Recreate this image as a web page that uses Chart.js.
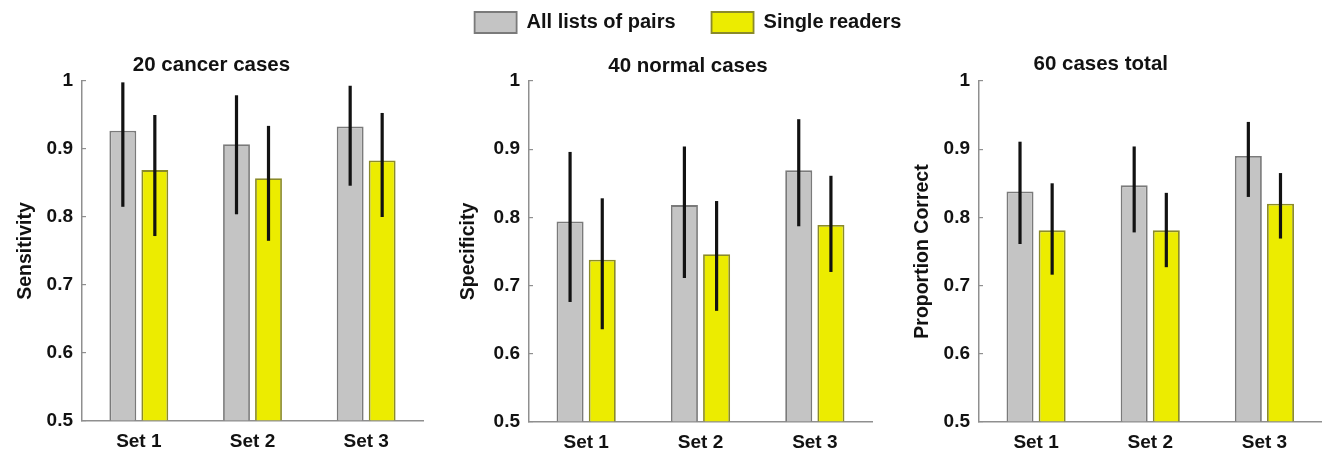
<!DOCTYPE html>
<html>
<head>
<meta charset="utf-8">
<script src="https://cdn.jsdelivr.net/npm/chart.js@4.4.1/dist/chart.umd.min.js"></script>
<style>
  html, body { margin: 0; padding: 0; background: #ffffff; overflow: hidden; }
  body { width: 1331px; height: 457px; position: relative; }
  .panel { position: absolute; }
</style>
</head>
<body>
<div class="panel" id="p1" style="left:0px;top:0px;width:440px;height:457px;"><canvas id="c1"></canvas></div>
<div class="panel" id="p2" style="left:400px;top:-24px;width:576px;height:481px;"><canvas id="c2"></canvas></div>
<div class="panel" id="p3" style="left:880px;top:0px;width:451px;height:457px;"><canvas id="c3"></canvas></div>
<script>
// ---- data ----
const categories = ['Set 1', 'Set 2', 'Set 3'];
const seriesNames = ['All lists of pairs', 'Single readers'];
const panelTitles = ['20 cancer cases', '40 normal cases', '60 cases total'];
const yAxisTitles = ['Sensitivity', 'Specificity', 'Proportion Correct'];
const yTickValues = [0.5, 0.6, 0.7, 0.8, 0.9, 1.0];
const yTickLabels = ['0.5', '0.6', '0.7', '0.8', '0.9', '1'];

const cancerPairs      = [0.927, 0.907, 0.933];
const cancerPairsLo    = [0.815, 0.804, 0.846];
const cancerPairsHi    = [0.998, 0.979, 0.993];
const cancerSingle     = [0.869, 0.857, 0.883];
const cancerSingleLo   = [0.772, 0.765, 0.800];
const cancerSingleHi   = [0.950, 0.934, 0.953];

const normalPairs      = [0.794, 0.818, 0.869];
const normalPairsLo    = [0.676, 0.711, 0.787];
const normalPairsHi    = [0.896, 0.904, 0.944];
const normalSingle     = [0.738, 0.746, 0.789];
const normalSingleLo   = [0.636, 0.663, 0.720];
const normalSingleHi   = [0.828, 0.824, 0.861];

const totalPairs       = [0.838, 0.847, 0.890];
const totalPairsLo     = [0.761, 0.778, 0.830];
const totalPairsHi     = [0.911, 0.904, 0.940];
const totalSingle      = [0.781, 0.781, 0.820];
const totalSingleLo    = [0.716, 0.727, 0.769];
const totalSingleHi    = [0.850, 0.836, 0.865];

// ---- styles ----
Chart.defaults.font.family = '"Liberation Sans", Arial, Helvetica, sans-serif';
Chart.defaults.color = '#121212';
const TXT = '#121212';
const AXIS = '#8f8f8f';
const GRAY_FILL = '#c4c4c4', GRAY_EDGE = '#7a7a7a';
const YEL_FILL = '#ecec00', YEL_EDGE = '#8a8a2a';

const errorBars = {
  id: 'errorBars',
  afterDatasetsDraw(chart) {
    const ctx = chart.ctx, ys = chart.scales.y;
    ctx.save();
    ctx.strokeStyle = '#121212';
    ctx.lineWidth = 3.2;
    ctx.lineCap = 'butt';
    chart.data.datasets.forEach((ds, i) => {
      const meta = chart.getDatasetMeta(i);
      if (!ds.errLo) return;
      meta.data.forEach((el, j) => {
        ctx.beginPath();
        ctx.moveTo(el.x, ys.getPixelForValue(ds.errLo[j]));
        ctx.lineTo(el.x, ys.getPixelForValue(ds.errHi[j]));
        ctx.stroke();
      });
    });
    ctx.restore();
  }
};

function makeDatasets(a, aLo, aHi, b, bLo, bHi) {
  return [
    { label: seriesNames[0], data: a, errLo: aLo, errHi: aHi, base: 0.5,
      backgroundColor: GRAY_FILL, borderColor: GRAY_EDGE, borderWidth: 1.8,
      barPercentage: 0.84, categoryPercentage: 0.563 },
    { label: seriesNames[1], data: b, errLo: bLo, errHi: bHi, base: 0.5,
      backgroundColor: YEL_FILL, borderColor: YEL_EDGE, borderWidth: 1.8,
      barPercentage: 0.84, categoryPercentage: 0.563 }
  ];
}

function makeChart(id, cfg) {
  const scales = {
    x: {
      type: 'category',
      offset: true,
      grid: { display: false, drawTicks: false },
      border: { display: true, color: AXIS, width: 1.5 },
      ticks: { font: { size: 19, weight: 'bold' }, padding: 9, color: TXT },
      afterFit: s => { s.height = cfg.xH; }
    },
    y: {
      type: 'linear',
      min: 0.5, max: 1,
      afterBuildTicks: s => { s.ticks = yTickValues.map(v => ({ value: v })); },
      ticks: {
        font: { size: 19, weight: 'bold' }, padding: 13, color: TXT,
        callback: v => { const k = yTickValues.findIndex(t => Math.abs(t - v) < 1e-6); return k >= 0 ? yTickLabels[k] : ''; }
      },
      grid: { display: true, drawOnChartArea: false, drawTicks: true, tickLength: -4, color: AXIS, lineWidth: 1.2 },
      border: { display: true, color: AXIS, width: 1.5 },
      title: { display: true, text: cfg.yTitle, font: { size: 19.5, weight: 'bold' }, color: TXT, padding: { top: cfg.yTitlePad, bottom: 0 } },
      afterFit: s => { s.width = cfg.yW; }
    }
  };
  if (cfg.rightW) {
    scales.yR = {
      type: 'linear', position: 'right', display: true,
      grid: { display: false, drawTicks: false }, border: { display: false },
      ticks: { display: false },
      afterFit: s => { s.width = cfg.rightW; }
    };
  }
  return new Chart(document.getElementById(id), {
    type: 'bar',
    data: { labels: categories, datasets: cfg.datasets },
    options: {
      responsive: true,
      maintainAspectRatio: false,
      animation: false,
      layout: { padding: { left: 0, right: cfg.padR, top: 0, bottom: 0 } },
      plugins: {
        legend: cfg.legend ? {
          display: true, position: 'top', align: 'center',
          labels: { boxWidth: 42, boxHeight: 21, padding: 36, font: { size: 20, weight: 'bold' }, color: TXT }
        } : { display: false },
        title: {
          display: true, text: cfg.title, weight: 500,
          font: { size: 20.5, weight: 'bold' }, color: TXT,
          padding: { top: cfg.tPadTop, bottom: cfg.tPadBot }
        },
        tooltip: { enabled: false }
      },
      scales: scales
    },
    plugins: [errorBars]
  });
}

makeChart('c1', {
  datasets: makeDatasets(cancerPairs, cancerPairsLo, cancerPairsHi, cancerSingle, cancerSingleLo, cancerSingleHi),
  title: panelTitles[0], yTitle: yAxisTitles[0], yTitlePad: 13.6, yW: 82, xH: 36, padR: 17,
  tPadTop: 52.7, tPadBot: 3.7
});
makeChart('c2', {
  datasets: makeDatasets(normalPairs, normalPairsLo, normalPairsHi, normalSingle, normalSingleLo, normalSingleHi),
  title: panelTitles[1], yTitle: yAxisTitles[1], yTitlePad: 57.3, yW: 129, xH: 35, padR: 0, rightW: 104,
  legend: true, tPadTop: 10.7, tPadBot: 2.7
});
makeChart('c3', {
  datasets: makeDatasets(totalPairs, totalPairsLo, totalPairsHi, totalSingle, totalSingleLo, totalSingleHi),
  title: panelTitles[2], yTitle: yAxisTitles[2], yTitlePad: 30.6, yW: 99, xH: 35, padR: 9.5,
  tPadTop: 51.7, tPadBot: 4.7
});
</script>
</body>
</html>
